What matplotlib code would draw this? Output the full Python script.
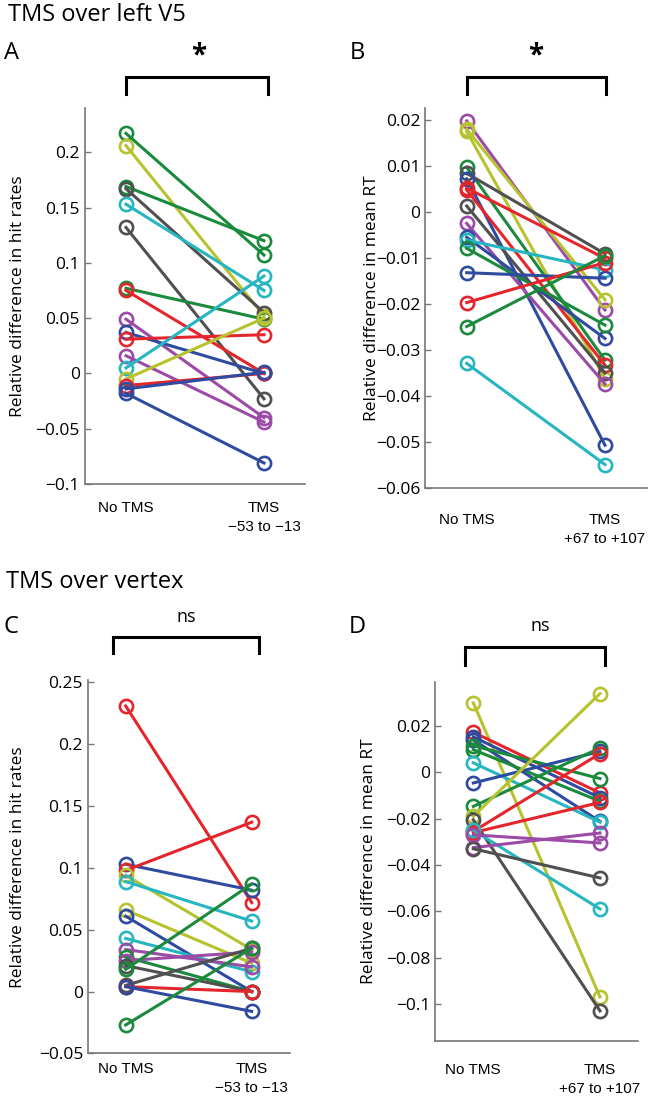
import matplotlib
matplotlib.use('Agg')
import matplotlib.pyplot as plt
from matplotlib.lines import Line2D
from matplotlib.ticker import FuncFormatter

plt.rcParams['font.family'] = ['Open Sans', 'DejaVu Sans']

W, H = 660, 1111

palette = {'b': '#2f4b9f', 'g': '#1b8a3d', 'r': '#e4262c', 'c': '#25b6c1',
           'm': '#9b4ba6', 'y': '#b7c22f', 'k': '#505050'}

conditions_early = ['No TMS', 'TMS\n\u221253 to \u221213']
conditions_late = ['No TMS', 'TMS\n+67 to +107']

# A: TMS over left V5, hit rates
a_col = ['g', 'y', 'g', 'k', 'c', 'k', 'g', 'r', 'm', 'b', 'r', 'm', 'c', 'y', 'r', 'b', 'b']
a_pre = [0.217, 0.206, 0.169, 0.167, 0.153, 0.132, 0.077, 0.075, 0.049, 0.037,
         0.031, 0.016, 0.005, -0.005, -0.011, -0.014, -0.018]
a_post = [0.107, 0.052, 0.120, 0.055, 0.075, -0.023, 0.049, 0.000, -0.040, 0.000,
          0.035, -0.044, 0.088, 0.050, 0.000, 0.001, -0.081]

# B: TMS over left V5, mean RT
b_col = ['m', 'y', 'y', 'g', 'k', 'b', 'r', 'r', 'k', 'm', 'b', 'c', 'g', 'b', 'r', 'g', 'c']
b_pre = [0.0198, 0.0180, 0.0175, 0.0097, 0.0084, 0.0072, 0.0052, 0.0048, 0.0013,
         -0.0025, -0.0055, -0.0061, -0.0079, -0.0132, -0.0197, -0.0249, -0.0329]
b_post = [-0.0213, -0.0191, -0.0362, -0.0322, -0.0091, -0.0507, -0.0101, -0.0333, -0.0350,
          -0.0374, -0.0275, -0.0126, -0.0246, -0.0144, -0.0110, -0.0095, -0.0549]

# C: TMS over vertex, hit rates
c_col = ['r', 'b', 'r', 'y', 'c', 'y', 'b', 'c', 'm', 'g', 'm', 'k', 'g', 'k', 'r', 'b', 'g']
c_pre = [0.231, 0.103, 0.098, 0.094, 0.089, 0.066, 0.061, 0.043, 0.034, 0.028,
         0.025, 0.021, 0.018, 0.005, 0.004, 0.004, -0.027]
c_post = [0.072, 0.082, 0.137, 0.034, 0.057, 0.023, 0.000, 0.016, 0.020, 0.000,
          0.032, 0.000, 0.087, 0.035, 0.000, -0.016, 0.035]

# D: TMS over vertex, mean RT
d_col = ['y', 'r', 'b', 'b', 'g', 'g', 'c', 'b', 'g', 'y', 'k', 'r', 'r', 'c', 'm', 'm', 'k']
d_pre = [0.030, 0.0173, 0.0153, 0.014, 0.0115, 0.0098, 0.0041, -0.0046, -0.0147,
         -0.019, -0.0205, -0.0255, -0.026, -0.025, -0.027, -0.0325, -0.033]
d_post = [-0.097, -0.0089, -0.011, -0.0212, -0.0027, -0.0125, -0.0215, 0.009, 0.0105,
          0.034, -0.103, 0.0081, -0.013, -0.059, -0.0305, -0.0262, -0.0456]


def rect(x0, x1, y0, y1):
    return [x0 / W, 1 - y1 / H, (x1 - x0) / W, (y1 - y0) / H]


def fmt(v, pos):
    return ('%g' % round(v, 4)).replace('-', '\u2212')


def panel(box, pre, post, cols, ylim, ticks, ylabel, xlabels, pad, label_x):
    ax = fig.add_axes(rect(*box))
    for p0, p1, c in zip(pre, post, cols):
        ax.plot([1, 2], [p0, p1], '-o', color=palette[c], lw=2.2, ms=9.5,
                mfc='none', mew=1.9, clip_on=False)
    ax.set_xlim(0.7, 2.3)
    ax.set_ylim(*ylim)
    ax.set_yticks(ticks)
    ax.yaxis.set_major_formatter(FuncFormatter(fmt))
    ax.set_xticks([1, 2])
    ax.set_xticklabels(xlabels, family=['Liberation Sans', 'DejaVu Sans'], fontsize=11,
                       linespacing=1.45)
    ax.tick_params(axis='x', length=0, pad=pad)
    ax.tick_params(axis='y', direction='in', length=4, width=1, color='#777777',
                   labelsize=12.5, pad=3.5)
    for s in ['top', 'right']:
        ax.spines[s].set_visible(False)
    for s in ['left', 'bottom']:
        ax.spines[s].set_color('#777777')
        ax.spines[s].set_linewidth(1.2)
    ax.set_ylabel(ylabel, fontsize=12.5)
    ax.yaxis.set_label_coords((label_x - box[0]) / (box[1] - box[0]), 0.5)
    return ax


def bracket(x0, x1, ytop, ybot):
    xs = [x0 / W, x0 / W, x1 / W, x1 / W]
    ys = [1 - ybot / H, 1 - ytop / H, 1 - ytop / H, 1 - ybot / H]
    fig.add_artist(Line2D(xs, ys, color='black', lw=2.2, solid_joinstyle='miter'))


def label(x, y, s, **kw):
    fig.text(x / W, 1 - y / H, s, va='center', **kw)


fig = plt.figure(figsize=(6.6, 11.11), dpi=100)

panel((84.6, 305.4, 108, 484), a_pre, a_post, a_col, (-0.1, 0.24),
      [-0.1, -0.05, 0, 0.05, 0.1, 0.15, 0.2],
      'Relative difference in hit rates', conditions_early, 12, 26)
panel((425.2, 646.5, 108, 488), b_pre, b_post, b_col, (-0.06, 0.0226),
      [-0.06, -0.05, -0.04, -0.03, -0.02, -0.01, 0, 0.01, 0.02],
      'Relative difference in mean RT', conditions_late, 18, 380)
panel((87.9, 289.5, 680, 1053.4), c_pre, c_post, c_col, (-0.05, 0.252),
      [-0.05, 0, 0.05, 0.1, 0.15, 0.2, 0.25],
      'Relative difference in hit rates', conditions_early, 6, 26)
panel((435.3, 638, 682, 1041), d_pre, d_post, d_col, (-0.116, 0.039),
      [-0.1, -0.08, -0.06, -0.04, -0.02, 0, 0.02],
      'Relative difference in mean RT', conditions_late, 16, 377)

label(8, 15, 'TMS over left V5', fontsize=17, ha='left')
label(6, 582, 'TMS over vertex', fontsize=17, ha='left')
label(11, 53, 'A', fontsize=17, ha='center')
label(357, 53, 'B', fontsize=17, ha='center')
label(11, 627, 'C', fontsize=17, ha='center')
label(357, 627, 'D', fontsize=17, ha='center')

bracket(126, 268, 77, 94)
bracket(467, 606, 77, 94)
bracket(113, 259, 637, 653)
bracket(465, 605, 647, 665)

label(199, 56, '*', fontsize=20, fontweight='bold', ha='center')
label(536, 56, '*', fontsize=20, fontweight='bold', ha='center')
label(186, 617, 'ns', fontsize=13, ha='center')
label(540, 626, 'ns', fontsize=13, ha='center')

fig.savefig('out.png', dpi=100)
